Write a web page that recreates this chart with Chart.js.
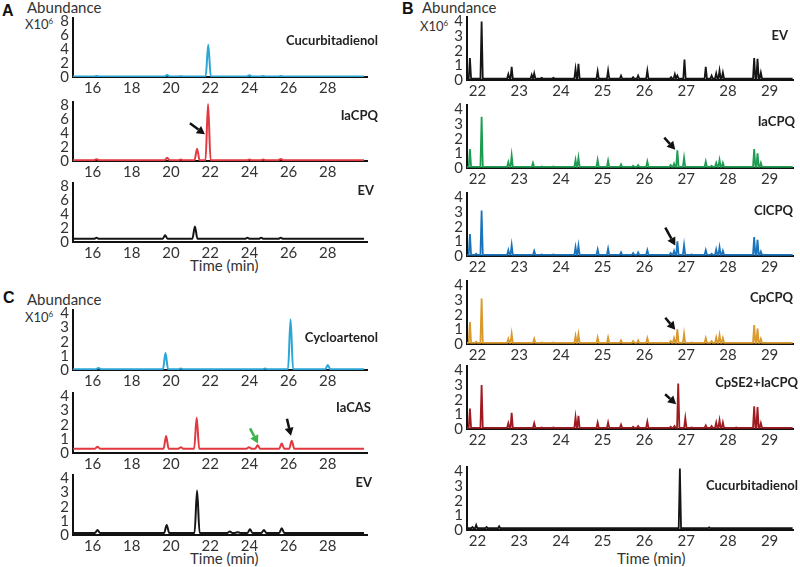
<!DOCTYPE html>
<html>
<head>
<meta charset="utf-8">
<script src="https://cdn.jsdelivr.net/npm/chart.js@4.4.0/dist/chart.umd.min.js"></script>
<style>
  body { margin: 0; background: #fff; width: 800px; height: 567px; position: relative; overflow: hidden; font-family: Lato, "Open Sans", sans-serif; color: #333; }
  canvas { position: absolute; }
  .txt { position: absolute; font-size: 15px; white-space: nowrap; line-height: 16px; }
  .unit { position: absolute; font-size: 13px; white-space: nowrap; line-height: 16px; }
  .ttl { position: absolute; font-size: 13px; font-weight: bold; white-space: nowrap; line-height: 16px; color: #222; }
  .pan { position: absolute; font-size: 16px; font-weight: bold; font-family: Arial, "Liberation Sans", sans-serif; color: #111; line-height: 16px; }
</style>
</head>
<body>

<div class="pan" style="left:2px;top:3px;">A</div>
<div class="txt" style="left:27px;top:-1px;">Abundance</div>
<div class="unit" style="left:25px;top:13px;">X10<sup style="font-size:8px;">6</sup></div>

<div class="pan" style="left:402px;top:1px;">B</div>
<div class="txt" style="left:422px;top:-1px;">Abundance</div>
<div class="unit" style="left:420px;top:15px;">X10<sup style="font-size:8px;">6</sup></div>

<div class="pan" style="left:3px;top:290px;">C</div>
<div class="txt" style="left:27px;top:291px;">Abundance</div>
<div class="unit" style="left:25px;top:306px;">X10<sup style="font-size:8px;">6</sup></div>

<div class="txt" style="left:190px;top:257px;">Time (min)</div>
<div class="txt" style="left:190px;top:550px;">Time (min)</div>
<div class="txt" style="left:617px;top:550px;">Time (min)</div>

<script>
// tick labels
var aTimeTicks = [16, 18, 20, 22, 24, 26, 28];
var aAbundanceTicks = [0, 2, 4, 6, 8];
var cAbundanceTicks = [0, 1, 2, 3, 4];
var bTimeTicks = [22, 23, 24, 25, 26, 27, 28, 29];
var bAbundanceTicks = [0, 1, 2, 3, 4];

// panel A (time in min, abundance x10^6)
var aCucTimes = [16.2, 19.8, 20.5, 21.9, 24.0, 24.7, 25.6];
var aCucHeights = [0.15, 0.3, 0.12, 4.6, 0.25, 0.15, 0.15];
var aCucBase = 0.08;

var aIaTimes = [16.2, 19.8, 20.5, 21.33, 21.89, 24.0, 24.7, 25.6];
var aIaHeights = [0.25, 0.45, 0.2, 1.75, 8.1, 0.2, 0.2, 0.3];
var aIaBase = 0.12;

var aEvTimes = [16.2, 19.7, 21.22, 23.9, 24.6, 25.6];
var aEvHeights = [0.6, 0.95, 2.2, 0.6, 0.6, 0.6];
var aEvBase = 0.45;

// panel C
var cCycTimes = [16.3, 19.72, 20.5, 24.8, 26.1, 28.0];
var cCycHeights = [0.15, 1.2, 0.1, 0.1, 3.6, 0.35];
var cCycBase = 0.05;

var cIaTimes = [16.25, 19.75, 20.5, 21.31, 23.98, 24.42, 25.65, 26.16];
var cIaHeights = [0.45, 1.2, 0.4, 2.5, 0.4, 0.55, 0.67, 0.87];
var cIaBase = 0.3;

var cEvTimes = [16.25, 19.78, 21.33, 23.0, 23.4, 24.03, 24.74, 25.65];
var cEvHeights = [0.35, 0.7, 3.15, 0.25, 0.2, 0.4, 0.35, 0.48];
var cEvBase = 0.15;

// panel B
var bEvTimes = [21.82, 22.1, 22.74, 22.82, 23.3, 23.36, 23.54, 23.82, 24.35, 24.42, 24.88, 25.13, 25.44, 25.73, 25.85, 26.07, 26.64, 26.73, 26.79, 26.96, 27.13, 27.47, 27.61, 27.72, 27.8, 27.88, 28.63, 28.71, 28.79];
var bEvHeights = [1.5, 4.0, 0.4, 0.9, 0.35, 0.45, 0.15, 0.15, 0.75, 1.1, 0.6, 0.65, 0.3, 0.2, 0.3, 0.65, 0.2, 0.4, 0.3, 1.4, 0.1, 0.9, 0.3, 0.45, 0.65, 0.5, 1.5, 1.45, 0.5];
var bEvBase = 0.1;

var bIaTimes = [21.82, 22.1, 22.74, 22.82, 23.33, 23.54, 23.82, 24.35, 24.42, 24.88, 25.13, 25.44, 25.73, 25.85, 26.07, 26.63, 26.71, 26.79, 26.95, 27.47, 27.61, 27.72, 27.8, 27.88, 28.63, 28.71, 28.79];
var bIaHeights = [1.3, 3.5, 0.4, 0.85, 0.35, 0.1, 0.1, 0.55, 0.7, 0.55, 0.5, 0.25, 0.15, 0.2, 0.45, 0.2, 0.3, 1.2, 0.7, 0.45, 0.15, 0.35, 0.55, 0.35, 1.3, 1.0, 0.35];
var bIaBase = 0.08;

var bClTimes = [21.82, 21.97, 22.1, 22.74, 22.82, 23.36, 23.54, 23.82, 24.35, 24.42, 24.88, 25.13, 25.44, 25.73, 25.85, 26.07, 26.63, 26.71, 26.79, 26.95, 27.13, 27.47, 27.61, 27.72, 27.8, 27.88, 28.63, 28.71, 28.79];
var bClHeights = [1.5, 0.15, 3.1, 0.4, 0.75, 0.35, 0.1, 0.1, 0.6, 0.7, 0.45, 0.5, 0.25, 0.2, 0.25, 0.4, 0.2, 0.35, 1.0, 0.75, 0.1, 0.4, 0.15, 0.45, 0.6, 0.35, 1.3, 1.1, 0.3];
var bClBase = 0.08;

var bCpTimes = [21.82, 21.97, 22.1, 22.74, 22.82, 23.36, 23.54, 23.82, 24.35, 24.42, 24.88, 25.13, 25.44, 25.73, 25.85, 26.07, 26.63, 26.71, 26.79, 26.95, 27.13, 27.47, 27.61, 27.72, 27.8, 27.88, 28.63, 28.71, 28.79];
var bCpHeights = [1.5, 0.15, 3.1, 0.35, 0.7, 0.35, 0.1, 0.1, 0.55, 0.65, 0.45, 0.45, 0.25, 0.2, 0.25, 0.4, 0.2, 0.4, 1.0, 0.7, 0.1, 0.4, 0.2, 0.45, 0.6, 0.4, 1.3, 1.05, 0.35];
var bCpBase = 0.08;

var bSeTimes = [21.82, 22.1, 22.74, 22.82, 23.36, 23.54, 23.82, 24.35, 24.42, 24.88, 25.13, 25.44, 25.73, 25.85, 26.07, 26.63, 26.72, 26.81, 26.98, 27.13, 27.47, 27.61, 27.72, 27.8, 27.88, 28.2, 28.63, 28.71, 28.79];
var bSeHeights = [1.4, 3.0, 0.4, 1.1, 0.4, 0.1, 0.1, 0.8, 0.9, 0.45, 0.45, 0.3, 0.15, 0.2, 0.5, 0.15, 0.2, 3.1, 0.75, 0.1, 0.25, 0.2, 0.45, 0.6, 0.45, 0.1, 1.55, 1.5, 0.4];
var bSeBase = 0.08;

var bCucTimes = [21.88, 21.97, 22.22, 22.52, 25.2, 26.85, 27.55];
var bCucHeights = [0.2, 0.35, 0.2, 0.25, 0.12, 4.2, 0.18];
var bCucBase = 0.12;

// turn peak lists into a trace
function peakTrace(times, heights, base, w, start, end) {
  var pts = [{ x: start, y: base }];
  for (var i = 0; i < times.length; i++) {
    pts.push({ x: times[i] - w, y: base });
    pts.push({ x: times[i], y: heights[i] });
    pts.push({ x: times[i] + w, y: base });
  }
  pts.push({ x: end, y: base });
  return pts;
}

// arrows drawn at a data point, tail given as pixel offset
var arrowPlugin = {
  id: "arrows",
  afterDatasetsDraw: function(chart) {
    var list = chart.options.plugins.arrows.list || [];
    var ctx = chart.ctx;
    list.forEach(function(a) {
      var tx = chart.scales.x.getPixelForValue(a.x);
      var ty = chart.scales.y.getPixelForValue(a.y);
      var fx = tx + a.dx, fy = ty + a.dy;
      var ang = Math.atan2(ty - fy, tx - fx);
      var head = 8, half = 4.5;
      var bx = tx - head * Math.cos(ang), by = ty - head * Math.sin(ang);
      ctx.save();
      ctx.strokeStyle = a.color;
      ctx.fillStyle = a.color;
      ctx.lineWidth = 2.5;
      ctx.beginPath();
      ctx.moveTo(fx, fy);
      ctx.lineTo(bx, by);
      ctx.stroke();
      ctx.beginPath();
      ctx.moveTo(tx, ty);
      ctx.lineTo(bx + half * Math.cos(ang + Math.PI / 2), by + half * Math.sin(ang + Math.PI / 2));
      ctx.lineTo(bx + half * Math.cos(ang - Math.PI / 2), by + half * Math.sin(ang - Math.PI / 2));
      ctx.closePath();
      ctx.fill();
      ctx.restore();
    });
  }
};

var YW = 30, XH = 22, PT = 10, PR = 6;
var tickFont = { family: "Lato, 'Open Sans', sans-serif", size: 15 };

function makeChart(c) {
  var cv = document.createElement("canvas");
  var w = (c.right - c.left) + YW + PR;
  var h = (c.zero - c.top) + PT + XH;
  cv.width = w;
  cv.height = h;
  cv.style.left = (c.left - YW) + "px";
  cv.style.top = (c.top - PT) + "px";
  document.body.appendChild(cv);

  new Chart(cv.getContext("2d"), {
    type: "line",
    data: {
      datasets: [{
        data: c.points,
        borderColor: c.color,
        borderWidth: c.lineWidth,
        pointRadius: 0,
        fill: false,
        tension: 0,
        cubicInterpolationMode: c.smooth ? "monotone" : "default"
      }]
    },
    options: {
      responsive: false,
      animation: false,
      devicePixelRatio: 1,
      layout: { padding: { top: PT, right: PR, left: 0, bottom: 0 } },
      plugins: {
        legend: { display: false },
        tooltip: { enabled: false },
        arrows: { list: c.arrows || [] }
      },
      scales: {
        x: {
          type: "linear",
          min: c.xMin,
          max: c.xMax,
          afterFit: function(s) { s.height = XH; },
          afterBuildTicks: function(s) { s.ticks = c.xTicks.map(function(v) { return { value: v }; }); },
          grid: { display: false, drawTicks: false },
          border: { display: true, color: "#111", width: 2 },
          ticks: { autoSkip: false, maxRotation: 0, padding: 2, color: "#333", font: tickFont }
        },
        y: {
          min: 0,
          max: c.yMax,
          afterFit: function(s) { s.width = YW; },
          afterBuildTicks: function(s) { s.ticks = c.yTicks.map(function(v) { return { value: v }; }); },
          grid: { display: false, drawTicks: false },
          border: { display: true, color: "#111", width: 2 },
          ticks: { autoSkip: false, padding: 4, color: "#333", font: tickFont }
        }
      }
    },
    plugins: [arrowPlugin]
  });

  var t = document.createElement("div");
  t.className = "ttl";
  t.textContent = c.title;
  t.style.right = (800 - c.titleRight) + "px";
  t.style.top = (c.titleY - 8) + "px";
  document.body.appendChild(t);
}

var blue = "#2ba6d6", red = "#e2383f", black = "#151515";
var aW = 0.13, bW = 0.028;

// panel A
makeChart({ left: 73, right: 367, top: 15, zero: 77, xMin: 15, xMax: 30, yMax: 8.4,
  xTicks: aTimeTicks, yTicks: aAbundanceTicks, color: blue, lineWidth: 2, smooth: true,
  points: peakTrace(aCucTimes, aCucHeights, aCucBase, aW, 15, 29.85),
  title: "Cucurbitadienol", titleRight: 378, titleY: 40 });
makeChart({ left: 73, right: 367, top: 99, zero: 161, xMin: 15, xMax: 30, yMax: 8.4,
  xTicks: aTimeTicks, yTicks: aAbundanceTicks, color: red, lineWidth: 2, smooth: true,
  points: peakTrace(aIaTimes, aIaHeights, aIaBase, aW, 15, 29.85),
  arrows: [{ x: 21.73, y: 3.8, dx: -15, dy: -11, color: "#111" }],
  title: "IaCPQ", titleRight: 378, titleY: 115 });
makeChart({ left: 73, right: 367, top: 180, zero: 242, xMin: 15, xMax: 30, yMax: 8.4,
  xTicks: aTimeTicks, yTicks: aAbundanceTicks, color: black, lineWidth: 2, smooth: true,
  points: peakTrace(aEvTimes, aEvHeights, aEvBase, aW, 15, 29.85),
  title: "EV", titleRight: 374, titleY: 190 });

// panel C
makeChart({ left: 73, right: 367, top: 307, zero: 370, xMin: 15, xMax: 30, yMax: 4.25,
  xTicks: aTimeTicks, yTicks: cAbundanceTicks, color: blue, lineWidth: 2, smooth: true,
  points: peakTrace(cCycTimes, cCycHeights, cCycBase, aW, 15, 29.85),
  title: "Cycloartenol", titleRight: 378, titleY: 337 });
makeChart({ left: 73, right: 367, top: 390, zero: 453, xMin: 15, xMax: 30, yMax: 4.25,
  xTicks: aTimeTicks, yTicks: cAbundanceTicks, color: red, lineWidth: 2, smooth: true,
  points: peakTrace(cIaTimes, cIaHeights, cIaBase, aW, 15, 29.85),
  arrows: [{ x: 24.44, y: 0.68, dx: -8, dy: -15, color: "#3ab54a" },
           { x: 26.12, y: 1.22, dx: -4, dy: -17, color: "#111" }],
  title: "IaCAS", titleRight: 371, titleY: 407 });
makeChart({ left: 73, right: 367, top: 472, zero: 535, xMin: 15, xMax: 30, yMax: 4.25,
  xTicks: aTimeTicks, yTicks: cAbundanceTicks, color: black, lineWidth: 2, smooth: true,
  points: peakTrace(cEvTimes, cEvHeights, cEvBase, aW, 15, 29.85),
  title: "EV", titleRight: 372, titleY: 482 });

// panel B
var bMin = 21.75, bMax = 29.56;
makeChart({ left: 467, right: 793, top: 14, zero: 80, xMin: bMin, xMax: bMax, yMax: 4.3,
  xTicks: bTimeTicks, yTicks: bAbundanceTicks, color: black, lineWidth: 1.8, smooth: false,
  points: peakTrace(bEvTimes, bEvHeights, bEvBase, bW, bMin, 29.55),
  title: "EV", titleRight: 788, titleY: 35 });
makeChart({ left: 467, right: 793, top: 102, zero: 168, xMin: bMin, xMax: bMax, yMax: 4.3,
  xTicks: bTimeTicks, yTicks: bAbundanceTicks, color: "#1e9c52", lineWidth: 1.8, smooth: false,
  points: peakTrace(bIaTimes, bIaHeights, bIaBase, bW, bMin, 29.55),
  arrows: [{ x: 26.74, y: 1.25, dx: -11, dy: -12, color: "#111" }],
  title: "IaCPQ", titleRight: 795, titleY: 121 });
makeChart({ left: 467, right: 793, top: 190, zero: 256, xMin: bMin, xMax: bMax, yMax: 4.3,
  xTicks: bTimeTicks, yTicks: bAbundanceTicks, color: "#1b74bb", lineWidth: 1.8, smooth: false,
  points: peakTrace(bClTimes, bClHeights, bClBase, bW, bMin, 29.55),
  arrows: [{ x: 26.74, y: 0.71, dx: -10, dy: -18, color: "#111" }],
  title: "ClCPQ", titleRight: 793, titleY: 210 });
makeChart({ left: 467, right: 793, top: 278, zero: 344, xMin: bMin, xMax: bMax, yMax: 4.3,
  xTicks: bTimeTicks, yTicks: bAbundanceTicks, color: "#d9992d", lineWidth: 1.8, smooth: false,
  points: peakTrace(bCpTimes, bCpHeights, bCpBase, bW, bMin, 29.55),
  arrows: [{ x: 26.74, y: 0.97, dx: -10, dy: -12, color: "#111" }],
  title: "CpCPQ", titleRight: 793, titleY: 297 });
makeChart({ left: 467, right: 793, top: 363, zero: 429, xMin: bMin, xMax: bMax, yMax: 4.3,
  xTicks: bTimeTicks, yTicks: bAbundanceTicks, color: "#9f1b20", lineWidth: 1.8, smooth: false,
  points: peakTrace(bSeTimes, bSeHeights, bSeBase, bW, bMin, 29.55),
  arrows: [{ x: 26.76, y: 1.69, dx: -11, dy: -10, color: "#111" }],
  title: "CpSE2+IaCPQ", titleRight: 798, titleY: 382 });
makeChart({ left: 467, right: 793, top: 464, zero: 530, xMin: bMin, xMax: bMax, yMax: 4.3,
  xTicks: bTimeTicks, yTicks: bAbundanceTicks, color: black, lineWidth: 1.8, smooth: false,
  points: peakTrace(bCucTimes, bCucHeights, bCucBase, bW, bMin, 29.55),
  title: "Cucurbitadienol", titleRight: 798, titleY: 485 });
</script>
</body>
</html>
